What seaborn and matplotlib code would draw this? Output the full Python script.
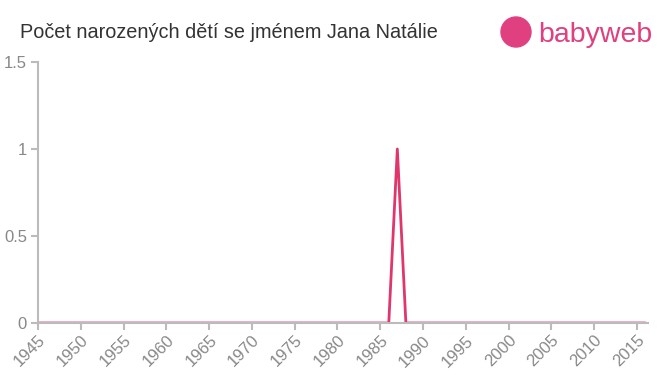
import matplotlib
matplotlib.use("Agg")
import matplotlib.pyplot as plt
import seaborn as sns
import pandas as pd
from matplotlib.patches import Ellipse

years = list(range(1945, 2017))
counts = [1 if y == 1987 else 0 for y in years]
xticks = list(range(1945, 2016, 5))
yticks = [0, 0.5, 1, 1.5]
ytick_labels = ["0", "0.5", "1", "1.5"]

sns.set_style("white")
plt.rcParams['font.family'] = ['Liberation Sans', 'DejaVu Sans']

df = pd.DataFrame({"year": years, "count": counts})

fig = plt.figure(figsize=(6.6, 3.75), dpi=100)
ax = fig.add_axes([38/660, 1 - 323/375, (648-38)/660, (323-62)/375])
sns.lineplot(data=df, x="year", y="count", ax=ax, color="#e0366c", linewidth=2)

ax.set_xlim(1945, 2016.3)
ax.set_ylim(0, 1.5)
ax.set_xticks(xticks)
ax.set_xticklabels([str(x) for x in xticks], rotation=45, ha="right", rotation_mode="anchor")
ax.set_yticks(yticks)
ax.set_yticklabels(ytick_labels)
ax.set_xlabel("")
ax.set_ylabel("")
for s in ["top", "right"]:
    ax.spines[s].set_visible(False)
for s in ["left", "bottom"]:
    ax.spines[s].set_color("#bbbbbb")
    ax.spines[s].set_linewidth(1.5)
ax.tick_params(axis="both", colors="#bbbbbb", length=5, width=1.5, direction="out",
               labelcolor="#888888", labelsize=12, bottom=True, left=True)
ax.tick_params(axis="x", pad=2)
ax.tick_params(axis="y", pad=3)
ax.grid(False)

fig.text(20/660, 1 - 32/375, "Počet narozených dětí se jménem Jana Natálie",
         fontsize=14.3, color="#333333", va="center", ha="left")

# logo
fig.text(538/660, 1 - 35/375, "babyweb", fontsize=20.5, color="#e0407f",
         va="center", ha="left", fontweight="normal")
circ = Ellipse((516/660, 1 - 32/375), 30/660, 30/375, transform=fig.transFigure,
               color="#e0407f")
fig.patches.append(circ)

fig.savefig("out.png", dpi=100)
